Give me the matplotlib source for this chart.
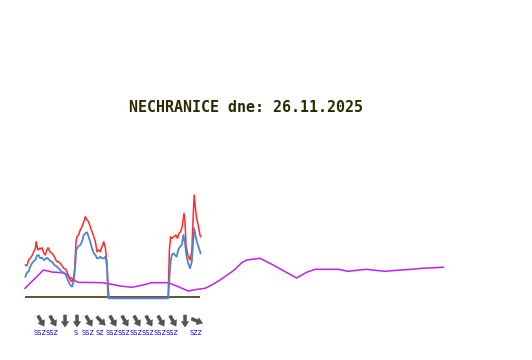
import matplotlib
matplotlib.use("Agg")
import matplotlib.pyplot as plt
from matplotlib.patches import FancyArrowPatch
import numpy as np

title = "NECHRANICE dne: 26.11.2025"

# time in hours from the start, values in cm-like units
red_t = [0.1, 0.5, 0.9, 1.3, 1.75, 2.2, 2.6, 2.8, 3.2, 3.6, 3.8, 4.25, 4.7, 5.1, 5.3, 5.75,
         6.3, 6.75, 7.2, 7.6, 8.0, 8.4, 8.8, 9.25, 9.7, 10.1, 10.5, 10.9, 11.3, 11.75, 12.2,
         12.4, 12.75, 13.0, 13.4, 13.8, 14.25, 14.7, 15.1, 15.5, 15.9, 16.3, 16.75, 17.2,
         17.6, 18.0, 18.4, 18.8, 19.25, 19.7, 20.1, 20.5, 20.75, 20.9, 21.1, 35.8, 35.85,
         36.1, 36.4, 36.8, 37.25, 37.7, 38.1, 38.5, 38.9, 39.3, 39.75, 40.0, 40.25, 40.7,
         41.25, 41.7, 42.1, 42.3, 42.6, 42.9, 43.3, 43.75, 43.9]
red_v = [32, 31.3, 37, 38.7, 41.3, 45.3, 48.7, 55.3, 47, 48.7, 48, 49.3, 43.7, 42, 45.3, 49.3,
         44.7, 43.7, 41.3, 38, 35.3, 35.3, 33.7, 31.3, 28.7, 28, 25.3, 20.3, 17, 15.3, 20.3,
         27, 55.3, 60.3, 62, 67, 70.3, 75.3, 80.3, 77, 75.3, 70.3, 65.3, 60.3,
         55.3, 45.3, 47, 45.3, 50.3, 55.3, 48.7, 33.7, 12, 3.7, -1.3, -1.3, 12,
         47, 60.3, 58.7, 60.3, 62, 58.7, 63.7, 65.3, 70.3, 83.7, 75.3, 52, 42,
         37, 45.3, 85.3, 102, 88.7, 78.7, 72, 62, 60.3]

blue_t = [0.1, 0.5, 0.9, 1.3, 1.75, 2.2, 2.6, 3.0, 3.4, 3.8, 4.25, 4.7, 5.1, 5.5, 5.9, 6.3,
          6.75, 7.2, 7.6, 8.0, 8.4, 8.8, 9.25, 9.7, 10.1, 10.5, 10.9, 11.3, 11.75, 12.2, 12.6,
          12.8, 13.25, 13.8, 14.25, 14.7, 15.1, 15.5, 15.9, 16.3, 16.75, 17.2, 17.6, 18.0,
          18.4, 18.8, 19.25, 19.7, 20.1, 20.5, 20.75, 20.9, 35.8, 35.85, 36.1, 36.4, 36.7,
          37.1, 37.5, 37.9, 38.3, 38.75, 39.2, 39.6, 40.0, 40.4, 40.8, 41.25, 41.7, 42.1,
          42.3, 42.75, 43.1, 43.5, 43.9]
blue_v = [20.3, 24.7, 25.3, 30.3, 33.7, 36, 37, 41.3, 42, 38.7, 39.3, 37, 37.7, 39.3, 38, 36,
          35.3, 32.7, 31.3, 30.3, 28.7, 27, 24.7, 24.7, 22.7, 18.7, 15.3, 12, 10.3, 16, 33.7,
          47, 50.3, 52, 55.3, 62, 63.7, 64.7, 60.3, 55.3, 48.7, 43.7, 42, 38.7,
          38.7, 40.3, 38.7, 38.7, 40.3, 30.3, 2, -1.3, -1.3, 0.3, 18.7, 35.3, 42,
          43.7, 42, 40.3, 47, 50.3, 52, 62, 53.7, 40.3, 33.7, 28.7, 35.3, 58.7,
          68.7, 58.7, 53.7, 48.7, 43.7]

mag_t = [0, 4.6, 5.4, 6.7, 9.2, 10.4, 11.25, 12.5, 13.25, 19.2, 21.7, 23.75, 26.7, 29.2,
         31.7, 35.8, 37.9, 40.8, 42.5, 45, 46.7, 48.75, 52.1, 54.2, 55.4, 58.75, 61.25,
         67.9, 70.4, 72.5, 78.3, 80.8, 82.9, 85.4, 87.5, 90, 92.9, 96.7, 99.2, 104.6]
mag_v = [8.7, 27, 26.3, 25, 24.3, 22.7, 19.7, 16.3, 14.7, 14.3, 12.7, 11, 9.7, 11.7,
         14.3, 14.3, 11, 6, 7.3, 8.7, 12, 17, 26.3, 34.3, 37, 38.7, 33.7,
         19, 24.7, 27.7, 27.7, 25.7, 26.7, 27.7, 26.7, 25.7, 26.7, 27.7, 28.7, 29.7]

base_t = [0, 43.75]
base_v = [0, 0]

wind_t = [4, 7, 10, 13, 16, 19, 22, 25, 28, 31, 34, 37, 40, 43]
wind_dir = ["SSZ", "SSZ", "S", "S", "SSZ", "SZ", "SSZ", "SSZ", "SSZ", "SSZ", "SSZ", "SSZ", "S", "SZZ"]
wind_lab = ["SSZ", "SSZ", "", "S", "SSZ", "SZ", "SSZ", "SSZ", "SSZ", "SSZ", "SSZ", "SSZ", "", "SZZ"]
bearing = {"S": 0.0, "SSZ": 330.0, "SZ": 315.0, "SZZ": 292.5}

W, H = 532, 360
fig = plt.figure(figsize=(W / 100, H / 100), dpi=100)
ax = fig.add_axes([0, 0, 1, 1])
ax.set_xlim(-6.25, 126.75)
ax.set_ylim(-63, 297)
ax.axis("off")

ax.plot(base_t, base_v, color="#2b2b00", lw=1.1, solid_capstyle="butt")
ax.plot(mag_t, mag_v, color="#c21ff0", lw=1.1)
ax.plot(red_t, red_v, color="#ff2b2b", lw=1.1)
ax.plot(blue_t, blue_v, color="#4a86d4", lw=1.3)

# data units per pixel
sx = (126.75 + 6.25) / W
sy = 360.0 / H
half = 6.0  # half arrow length in pixels
for t, d, lab in zip(wind_t, wind_dir, wind_lab):
    b = np.deg2rad(bearing[d] + 180.0)
    ux, uy = np.sin(b), np.cos(b)
    cx, cy = t, -24
    tail = (cx - ux * half * sx, cy - uy * half * sy)
    tip = (cx + ux * half * sx, cy + uy * half * sy)
    arr = FancyArrowPatch(tail, tip,
                          arrowstyle="simple,head_length=0.6,head_width=0.8,tail_width=0.32",
                          mutation_scale=6.5, color="#4a4a4a", lw=0.4, alpha=0.95,
                          shrinkA=0, shrinkB=0)
    ax.add_patch(arr)
    if lab:
        ax.text(t - 0.4, -36, lab, color="#0000ff", fontsize=5.0,
                family="DejaVu Sans Mono", ha="center", va="center")

ax.text(55.25, 190, title, color="#2b2b00", fontsize=10.8, fontweight="bold",
        family="DejaVu Sans Mono", ha="center", va="center")

fig.savefig("out.png", dpi=100)
